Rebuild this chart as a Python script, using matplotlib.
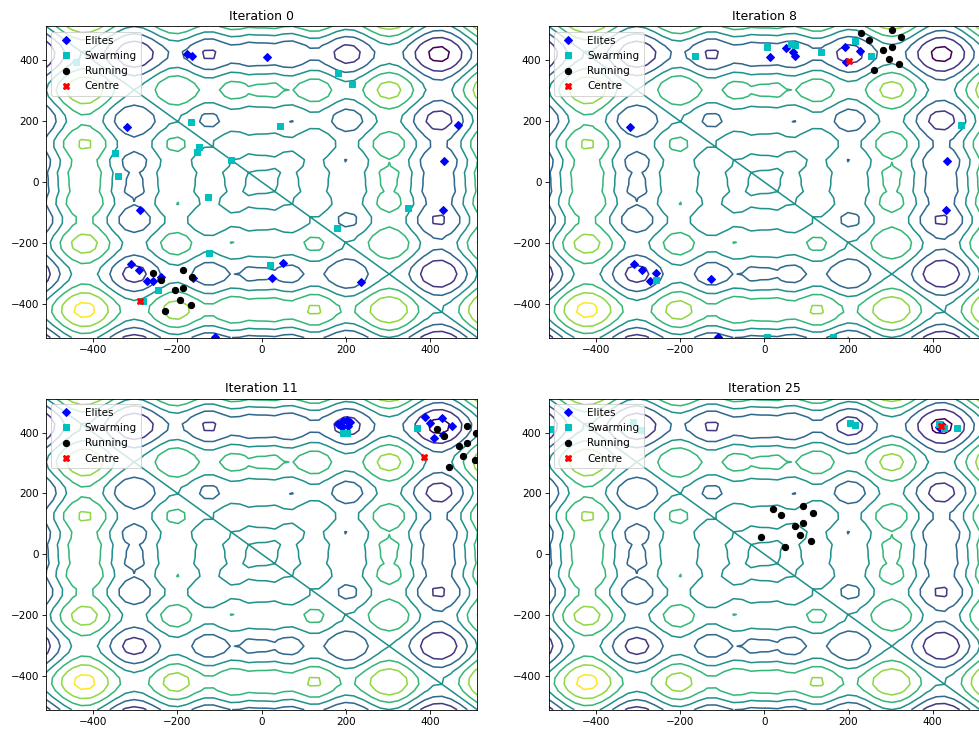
import numpy as np
import matplotlib.pyplot as plt

# Schwefel landscape on the search box (constant offset dropped)
lim = 512
grid = np.linspace(-lim, lim, 50)
X, Y = np.meshgrid(grid, grid)
Z = -X * np.sin(np.sqrt(np.abs(X))) - Y * np.sin(np.sqrt(np.abs(Y)))
levels = np.arange(-750, 751, 250)

iterations = [0, 8, 11, 25]

# iteration 0
elites_x_0 = [-178, -165, 13, -321, 467, 434, -288, 430, -311, -292, -273, -257, -238, -164, 50, 25, 236, -110]
elites_y_0 = [420, 415, 411, 180, 186, 69, -93, -93, -269, -291, -326, -326, -314, -315, -268, -317, -329, -509]
swarm_x_0 = [-442, 182, 215, -169, 43, -149, -153, -348, -73, -342, -128, 348, 178, -126, 20, -247, -281]
swarm_y_0 = [396, 358, 321, 199, 184, 114, 100, 97, 72, 20, -49, -86, -151, -235, -272, -355, -391]
run_x_0 = [-259, -240, -186, -165, -206, -186, -195, -168, -229]
run_y_0 = [-301, -323, -291, -314, -357, -348, -387, -405, -423]
centre_x_0 = [-288]
centre_y_0 = [-392]

# iteration 8
elites_x_8 = [192, 228, 193, 51, 68, 74, 14, -320, 435, 431, -310, -291, -257, -272, -127, -109]
elites_y_8 = [445, 431, 396, 442, 429, 416, 411, 180, 69, -93, -269, -291, -300, -326, -320, -509]
swarm_x_8 = [-164, 6, 63, 74, 135, 216, 254, 468, -258, 6, 163]
swarm_y_8 = [415, 444, 453, 451, 429, 464, 416, 186, -324, -509, -509]
run_x_8 = [230, 249, 303, 325, 283, 303, 295, 321, 261]
run_y_8 = [489, 468, 501, 476, 434, 443, 404, 387, 367]
centre_x_8 = [200]
centre_y_8 = [398]

# iteration 11
elites_x_11 = [182, 192, 202, 210, 190, 206, 388, 427, 451, 410, 430, 400]
elites_y_11 = [429, 438, 442, 435, 418, 420, 451, 449, 422, 383, 391, 430]
swarm_x_11 = [194, 202, 368]
swarm_y_11 = [398, 398, 416]
run_x_11 = [488, 508, 469, 488, 479, 507, 445, 416, 434]
run_y_11 = [422, 397, 356, 364, 323, 309, 287, 410, 390]
centre_x_11 = [386]
centre_y_11 = [319]

# iteration 25
elites_x_25 = [415, 422, 418]
elites_y_25 = [418, 425, 414]
swarm_x_25 = [203, 215, 416, 426, 458, -507, -312, -292]
swarm_y_25 = [431, 424, 429, 416, 416, 411, 435, 407]
run_x_25 = [21, 40, 93, 115, 74, 93, -9, 85, 112, 50]
run_y_25 = [147, 128, 158, 134, 92, 101, 56, 62, 44, 23]
centre_x_25 = [420]
centre_y_25 = [420]

elites = [(elites_x_0, elites_y_0), (elites_x_8, elites_y_8), (elites_x_11, elites_y_11), (elites_x_25, elites_y_25)]
swarm = [(swarm_x_0, swarm_y_0), (swarm_x_8, swarm_y_8), (swarm_x_11, swarm_y_11), (swarm_x_25, swarm_y_25)]
running = [(run_x_0, run_y_0), (run_x_8, run_y_8), (run_x_11, run_y_11), (run_x_25, run_y_25)]
centre = [(centre_x_0, centre_y_0), (centre_x_8, centre_y_8), (centre_x_11, centre_y_11), (centre_x_25, centre_y_25)]

dpi = 75
fig = plt.figure(figsize=(979 / dpi, 731 / dpi), dpi=dpi)
W, H = 979, 731
boxes = [(46.1, 26.4), (548.7, 26.4), (46.1, 398.5), (548.7, 398.5)]
aw, ah = 431.2, 311.2

for i, it in enumerate(iterations):
    x0, y0 = boxes[i]
    ax = fig.add_axes([x0 / W, 1 - (y0 + ah) / H, aw / W, ah / H])
    ax.contour(X, Y, Z, levels=levels)
    ax.plot(*elites[i], 'bD', label='Elites')
    ax.plot(*swarm[i], 'cs', label='Swarming')
    ax.plot(*running[i], 'ko', label='Running')
    ax.plot(*centre[i], 'rX', label='Centre')
    ax.set_xlim(-lim, lim)
    ax.set_ylim(-lim, lim)
    ax.set_title('Iteration %d' % it)
    ax.legend(loc='upper left')

fig.savefig('out.png', dpi=dpi)
